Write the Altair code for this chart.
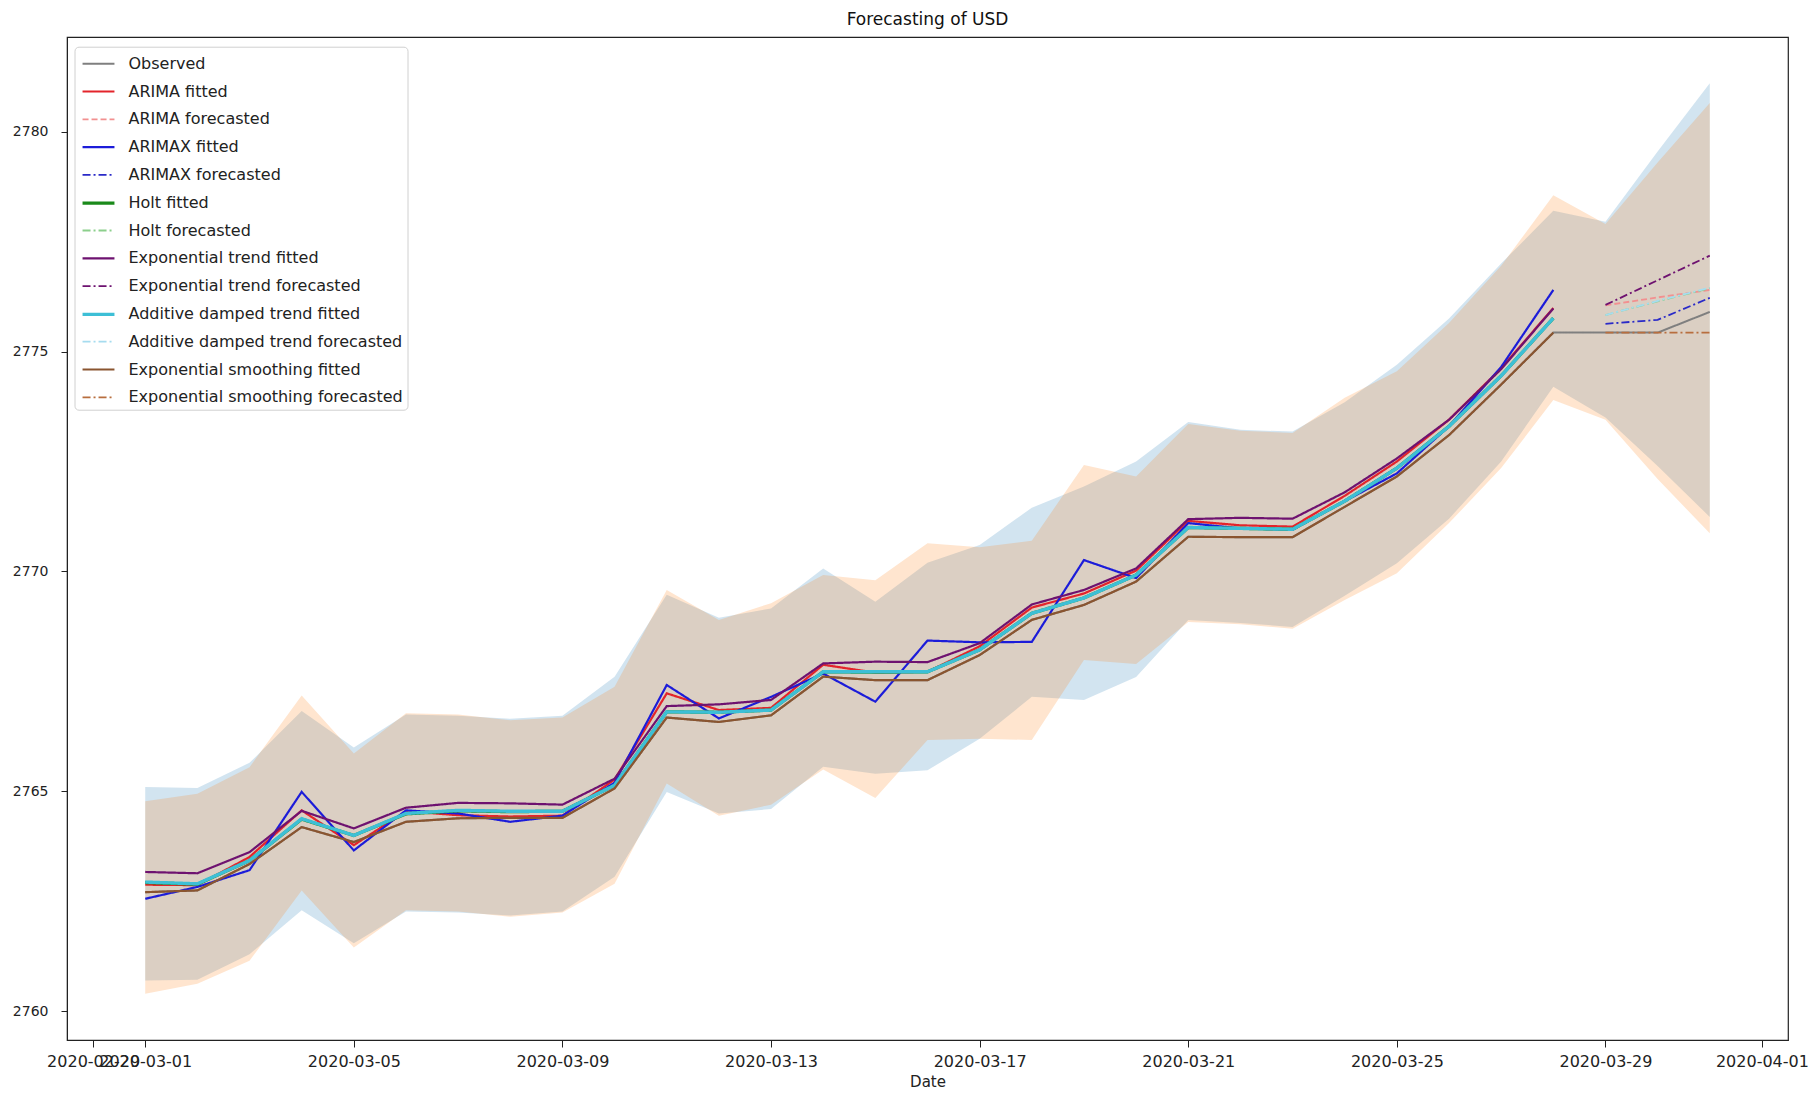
import altair as alt
import pandas as pd

# ---------------- data ----------------
dates = [f"2020-03-{d:02d}" for d in range(1, 32)]
fit_dates = dates[:28]          # 2020-03-01 .. 2020-03-28
fc_dates = dates[28:]           # 2020-03-29 .. 2020-03-31

observed = [2762.71, 2762.75, 2763.35, 2764.19, 2763.85, 2764.31, 2764.39, 2764.40, 2764.40, 2765.07,
            2766.68, 2766.58, 2766.73, 2767.61, 2767.53, 2767.53, 2768.10, 2768.90, 2769.24, 2769.77,
            2770.79, 2770.78, 2770.78, 2771.47, 2772.16, 2773.10, 2774.25, 2775.43,
            2775.43, 2775.43, 2775.90]

arima_fit = [2762.88, 2762.87, 2763.51, 2764.57, 2763.78, 2764.55, 2764.46, 2764.43, 2764.45, 2765.27,
             2767.23, 2766.85, 2766.90, 2767.88, 2767.70, 2767.72, 2768.30, 2769.18, 2769.50, 2770.02,
             2771.15, 2771.05, 2771.02, 2771.72, 2772.50, 2773.45, 2774.62, 2775.99]
arima_fc = [2776.05, 2776.23, 2776.40]

arimax_fit = [2762.56, 2762.83, 2763.21, 2764.99, 2763.66, 2764.57, 2764.50, 2764.31, 2764.45, 2765.20,
              2767.42, 2766.66, 2767.15, 2767.68, 2767.04, 2768.43, 2768.39, 2768.40, 2770.26, 2769.85,
              2771.10, 2770.98, 2770.95, 2771.60, 2772.23, 2773.30, 2774.65, 2776.40]
arimax_fc = [2775.63, 2775.72, 2776.22]

holt_fit = [2762.93, 2762.89, 2763.43, 2764.37, 2764.00, 2764.49, 2764.56, 2764.54, 2764.55, 2765.14,
            2766.81, 2766.80, 2766.85, 2767.72, 2767.71, 2767.72, 2768.22, 2769.05, 2769.40, 2769.92,
            2771.00, 2770.98, 2770.96, 2771.60, 2772.35, 2773.30, 2774.45, 2775.76]
holt_fc = [2775.83, 2776.14, 2776.44]

exptrend_fit = [2763.17, 2763.14, 2763.62, 2764.56, 2764.16, 2764.63, 2764.74, 2764.73, 2764.70, 2765.29,
                2766.94, 2766.98, 2767.08, 2767.91, 2767.95, 2767.94, 2768.37, 2769.25, 2769.58, 2770.07,
                2771.19, 2771.22, 2771.20, 2771.80, 2772.57, 2773.45, 2774.60, 2775.98]
exptrend_fc = [2776.06, 2776.62, 2777.18]

damped_fit = [2762.94, 2762.90, 2763.43, 2764.38, 2764.00, 2764.50, 2764.57, 2764.55, 2764.55, 2765.14,
              2766.81, 2766.80, 2766.85, 2767.72, 2767.72, 2767.72, 2768.22, 2769.05, 2769.40, 2769.92,
              2771.00, 2770.98, 2770.96, 2771.60, 2772.35, 2773.30, 2774.45, 2775.76]
damped_fc = [2775.83, 2776.15, 2776.45]

expsm_fit = [2762.71, 2762.75, 2763.35, 2764.19, 2763.85, 2764.31, 2764.39, 2764.40, 2764.40, 2765.07,
             2766.68, 2766.58, 2766.73, 2767.61, 2767.53, 2767.53, 2768.10, 2768.90, 2769.24, 2769.77,
             2770.79, 2770.78, 2770.78, 2771.47, 2772.16, 2773.10, 2774.25, 2775.43]
expsm_fc = [2775.43, 2775.43, 2775.43]

# confidence bands (blue and orange)
band1_lo = [2760.70, 2760.72, 2761.30, 2762.30, 2761.55, 2762.27, 2762.25, 2762.18, 2762.27, 2763.06,
            2764.99, 2764.50, 2764.60, 2765.56, 2765.40, 2765.48, 2766.20, 2767.15, 2767.08, 2767.60,
            2768.90, 2768.83, 2768.74, 2769.45, 2770.19, 2771.20, 2772.50, 2774.20, 2773.50, 2772.40, 2771.24]
band1_hi = [2765.10, 2765.08, 2765.65, 2766.83, 2766.00, 2766.75, 2766.72, 2766.65, 2766.72, 2767.61,
            2769.47, 2768.95, 2769.16, 2770.07, 2769.31, 2770.20, 2770.60, 2771.45, 2771.93, 2772.50,
            2773.40, 2773.22, 2773.18, 2773.85, 2774.70, 2775.75, 2777.00, 2778.20, 2777.95, 2779.55, 2781.10]
band2_lo = [2760.40, 2760.63, 2761.15, 2762.75, 2761.45, 2762.30, 2762.27, 2762.15, 2762.25, 2762.90,
            2765.18, 2764.45, 2764.70, 2765.50, 2764.85, 2766.17, 2766.20, 2766.17, 2767.99, 2767.90,
            2768.85, 2768.80, 2768.70, 2769.35, 2769.96, 2771.10, 2772.35, 2773.90, 2773.45, 2772.10, 2770.87]
band2_hi = [2764.78, 2764.95, 2765.55, 2767.18, 2765.86, 2766.78, 2766.75, 2766.62, 2766.68, 2767.38,
            2769.58, 2768.90, 2769.28, 2769.92, 2769.80, 2770.64, 2770.55, 2770.70, 2772.42, 2772.16,
            2773.35, 2773.20, 2773.15, 2773.95, 2774.55, 2775.65, 2776.95, 2778.55, 2777.90, 2779.30, 2780.65]

names = ["Observed", "ARIMA fitted", "ARIMA forecasted", "ARIMAX fitted", "ARIMAX forecasted",
         "Holt fitted", "Holt forecasted", "Exponential trend fitted", "Exponential trend forecasted",
         "Additive damped trend fitted", "Additive damped trend forecasted",
         "Exponential smoothing fitted", "Exponential smoothing forecasted"]
colors = ["#7f7f7f", "#e3242b", "#f29090", "#1c1cd9", "#2a2ac8", "#1a8a1a", "#8ccf8c",
          "#6e1270", "#6e1270", "#3dbfd6", "#a6dcef", "#8a5530", "#b86e3e"]
SOLID = [1, 0]
DASH = [6, 3]
DASHDOT = [8, 3, 2, 3]
dashes = [SOLID, SOLID, DASH, SOLID, DASHDOT, SOLID, DASHDOT, SOLID, DASHDOT, SOLID, DASHDOT, SOLID, DASHDOT]
widths = [2, 2.2, 1.8, 2.2, 1.8, 3.2, 1.8, 2.2, 1.8, 3.4, 1.8, 2.2, 1.8]

series_values = [
    (dates, observed),
    (fit_dates, arima_fit), (fc_dates, arima_fc),
    (fit_dates, arimax_fit), (fc_dates, arimax_fc),
    (fit_dates, holt_fit), (fc_dates, holt_fc),
    (fit_dates, exptrend_fit), (fc_dates, exptrend_fc),
    (fit_dates, damped_fit), (fc_dates, damped_fc),
    (fit_dates, expsm_fit), (fc_dates, expsm_fc),
]

rows = []
for name, (ds, vs) in zip(names, series_values):
    for d, v in zip(ds, vs):
        rows.append({"date": d, "value": v, "series": name})
df = pd.DataFrame(rows)

band_df = pd.DataFrame({"date": dates, "lo1": band1_lo, "hi1": band1_hi, "lo2": band2_lo, "hi2": band2_hi})

# ---------------- scales & axes ----------------
def ms(s):
    return int(pd.Timestamp(s, tz="UTC").value // 10**6)

x_ticks = ["2020-02-29", "2020-03-01", "2020-03-05", "2020-03-09", "2020-03-13", "2020-03-17",
           "2020-03-21", "2020-03-25", "2020-03-29", "2020-04-01"]

FONT = "DejaVu Sans"
x_scale = alt.Scale(type="utc", domain=[ms("2020-02-28T12:00:00"), ms("2020-04-01T12:00:00")])
y_scale = alt.Scale(domain=[2759.35, 2782.15], nice=False, zero=False)

x_axis = alt.Axis(values=[ms(t) for t in x_ticks], labelExpr="utcFormat(datum.value, '%Y-%m-%d')",
                  labelOverlap=False, labelFontSize=16, tickSize=7, labelPadding=6,
                  title="Date", titleFontSize=15, titlePadding=5, grid=False)
y_axis = alt.Axis(values=[2760, 2765, 2770, 2775, 2780], format="d", labelFontSize=14, tickSize=6,
                  labelPadding=13, title=None, grid=False)

X = alt.X("date:T", scale=x_scale, axis=x_axis)

legend = alt.Legend(title=None, orient="none", legendX=7.5, legendY=9.7,
                    symbolType="M-1.33,0H1.33", symbolSize=576, symbolOffset=6,
                    labelFontSize=16, labelFont=FONT, labelColor="#222222", labelLimit=500,
                    labelOffset=16, rowPadding=6.3, padding=4,
                    fillColor="white", strokeColor="#d0d0d0", cornerRadius=4)

color_enc = alt.Color("series:N", scale=alt.Scale(domain=names, range=colors), legend=legend)
dash_enc = alt.StrokeDash("series:N", scale=alt.Scale(domain=names, range=dashes), legend=legend)
width_enc = alt.StrokeWidth("series:N", scale=alt.Scale(type="ordinal", domain=names, range=widths),
                            legend=legend)

band1 = alt.Chart(band_df).mark_area(color="#1f77b4", opacity=0.2).encode(
    x=X, y=alt.Y("lo1:Q", scale=y_scale, axis=y_axis), y2="hi1:Q")
band2 = alt.Chart(band_df).mark_area(color="#ff7f0e", opacity=0.2).encode(
    x=X, y=alt.Y("lo2:Q", scale=y_scale, axis=y_axis), y2="hi2:Q")

layers = [band1, band2]
for name in names:
    layers.append(
        alt.Chart(df).transform_filter(alt.datum.series == name).mark_line().encode(
            x=X,
            y=alt.Y("value:Q", scale=y_scale, axis=y_axis),
            color=color_enc, strokeDash=dash_enc, strokeWidth=width_enc,
        )
    )

chart = alt.layer(*layers).properties(
    width=1721, height=1003,
    autosize="none",
    padding={"left": 59, "top": 29, "right": 22, "bottom": 50},
    title=alt.TitleParams("Forecasting of USD", fontSize=17, font=FONT, fontWeight="normal",
                          anchor="middle", offset=8, color="#111111"),
).configure_view(stroke="#222222", strokeWidth=1.2).configure_axis(
    domainColor="#222222", tickColor="#222222", labelColor="#222222", titleColor="#222222",
    labelFont=FONT, titleFont=FONT, titleFontWeight="normal",
)

chart.save("out.html", embed_options={"renderer": "svg", "actions": False})
